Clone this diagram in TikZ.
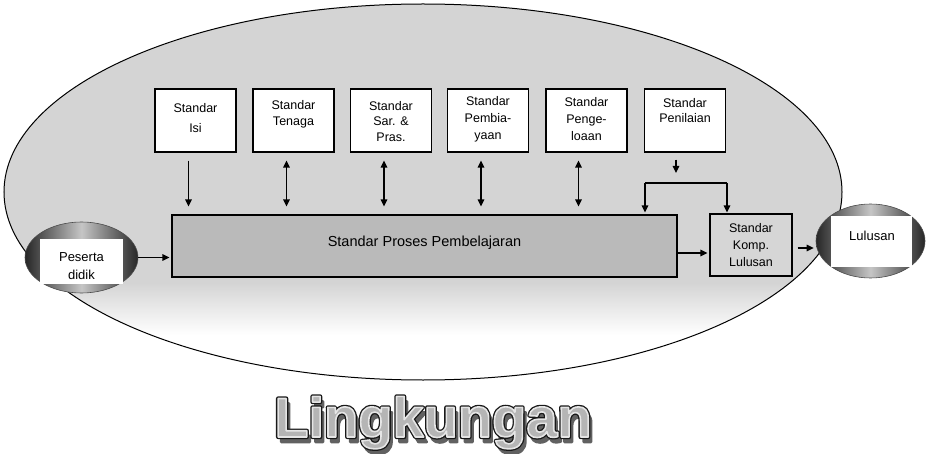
\documentclass[tikz,border=0pt]{standalone}
\usepackage{fontspec}
\setmainfont{Liberation Sans}
\usetikzlibrary{arrows.meta,shapes.geometric}
\definecolor{bggray}{gray}{0.83}
\definecolor{procgray}{gray}{0.73}
\definecolor{kompgray}{gray}{0.84}
\newcommand{\strokedtext}[3]{\special{pdf:literal direct #1 G 2 Tr #2 w 1 j}#3\special{pdf:literal direct 0 Tr 0 G}}
\begin{document}
\begin{tikzpicture}[x=1pt,y=-1pt,
  stdbox/.style={draw=black, line width=1.1pt, fill=white, minimum width=81pt, minimum height=63pt, inner sep=0pt},
  lbl/.style={font=\fontsize{12.5}{15.5}\selectfont, align=center, inner sep=0pt},
  arr/.style={line width=1.2pt, -{Triangle[length=7pt,width=6.5pt]}},
  darr/.style={line width=1.2pt, {Triangle[length=7pt,width=6.5pt]}-{Triangle[length=7pt,width=6.5pt]}},
  endell/.style={ellipse, draw=black!70, line width=0.6pt, inner sep=0pt,
     left color=black!85, right color=black!85, middle color=gray!45},
  endrect/.style={fill=white, inner sep=0pt},
  titlefont/.style={anchor=base, inner sep=0pt, font=\fontsize{56}{60}\selectfont\bfseries},
]
\useasboundingbox (0,0) rectangle (928,454);
\fill[white] (0,0) rectangle (928,454);

% environment ellipse
\begin{scope}
\clip (423,192) ellipse [x radius=419, y radius=188];
\fill[white] (0,0) rectangle (928,454);
\fill[bggray] (0,0) rectangle (928,282);
\shade[top color=bggray, bottom color=white] (0,282) rectangle (928,335);
\end{scope}
\draw[line width=1pt] (423,192) ellipse [x radius=419, y radius=188];

% top standard boxes
\node[stdbox] (b1) at (195.5,120.5) {};
\node[stdbox] (b2) at (293.5,120.5) {};
\node[stdbox] (b3) at (391,120.5) {};
\node[stdbox] (b4) at (488,120.5) {};
\node[stdbox] (b5) at (586.5,120.5) {};
\node[stdbox] (b6) at (685,120.5) {};
\node[lbl, font=\fontsize{12.5}{20}\selectfont] (t1) at (195.5,118) {Standar\\Isi};
\node[lbl] (t2) at (293.5,114.5) {Standar\\Tenaga};
\node[lbl] (t3) at (391,121.5) {Standar\\Sar. \&\\Pras.};
\node[lbl, font=\fontsize{12.5}{17}\selectfont] (t4) at (488,119.5) {Standar\\Pembia-\\yaan};
\node[lbl, font=\fontsize{12.5}{17}\selectfont] (t5) at (586.5,119.5) {Standar\\Penge-\\loaan};
\node[lbl] (t6) at (685,110.5) {Standar\\Penilaian};

% process box
\node[draw=black, line width=1.1pt, fill=procgray, minimum width=505pt, minimum height=62pt, inner sep=0pt] (proc) at (424.5,246) {};
\node[lbl, font=\fontsize{14.5}{17}\selectfont] (proct) at (424.5,243) {Standar Proses Pembelajaran};

% kompetensi lulusan box
\node[draw=black, line width=1.1pt, fill=kompgray, minimum width=82pt, minimum height=62pt, inner sep=0pt, lbl, font=\fontsize{12.5}{17}\selectfont] (komp) at (751,245) {Standar\\Komp.\\Lulusan};

% peserta didik
\node[endell, minimum width=113pt, minimum height=71pt] (pesell) at (81.5,257.5) {};
\node[endrect, minimum width=83pt, minimum height=45pt] (pesrect) at (81.5,261.5) {};
\node[lbl, font=\fontsize{13}{18}\selectfont] (pest) at (81.5,266) {Peserta\\didik};

% lulusan
\node[endell, minimum width=109pt, minimum height=74pt] (lulell) at (870.5,241) {};
\node[endrect, minimum width=81pt, minimum height=51pt] (lulrect) at (871.5,241.5) {};
\node[lbl, font=\fontsize{13}{16}\selectfont] (lult) at (872,236) {Lulusan};

% vertical connectors
\coordinate (a1) at ([xshift=-7pt]b1.south);
\coordinate (a2) at ([xshift=-7pt]b2.south);
\coordinate (a3) at ([xshift=-7pt]b3.south);
\coordinate (a4) at ([xshift=-7pt]b4.south);
\coordinate (a5) at ([xshift=-8pt]b5.south);
\coordinate (a6) at ([xshift=-9pt]b6.south);
\draw[arr, shorten <=8pt, shorten >=8pt] (a1) -- (a1 |- proc.north);
\draw[darr, shorten <=8pt, shorten >=8pt] (a2) -- (a2 |- proc.north);
\draw[darr, shorten <=8pt, shorten >=8pt] (a3) -- (a3 |- proc.north);
\draw[darr, shorten <=8pt, shorten >=8pt] (a4) -- (a4 |- proc.north);
\draw[darr, shorten <=8pt, shorten >=8pt] (a5) -- (a5 |- proc.north);

\coordinate (j1) at (645,183);
\coordinate (j2) at (727,183);
\draw[arr, shorten <=7pt, shorten >=10pt] (a6) -- (a6 |- j1);
\draw[line width=1.2pt] (j1) -- (j2);
\draw[arr, shorten >=2pt] (j1) -- (j1 |- proc.north);
\draw[arr, shorten >=1pt] (j2) -- (j2 |- komp.north);

% horizontal connectors
\draw[arr, shorten >=2pt] (pesell.east) -- (pesell.east -| proc.west);
\coordinate (pk) at ([yshift=-7pt]proc.east);
\draw[arr, shorten >=2pt] (pk) -- (pk -| komp.west);
\coordinate (kl) at ([yshift=-3pt]komp.east);
\draw[arr, shorten <=5pt, shorten >=2pt] (kl) -- (kl -| lulell.west);

% title: shadow, dark outline, light-rimmed gray letters
\node[titlefont, text=black!62] (lingsh) at (436,442)
  {\strokedtext{0.38}{2.5}{Lingkungan}};
\node[titlefont, text=black] (lingol) at (433,437)
  {\strokedtext{0.1}{4.2}{Lingkungan}};
\node[titlefont, text=gray!58] (ling) at (433,437)
  {\strokedtext{0.9}{1.6}{Lingkungan}};
\end{tikzpicture}
\end{document}
